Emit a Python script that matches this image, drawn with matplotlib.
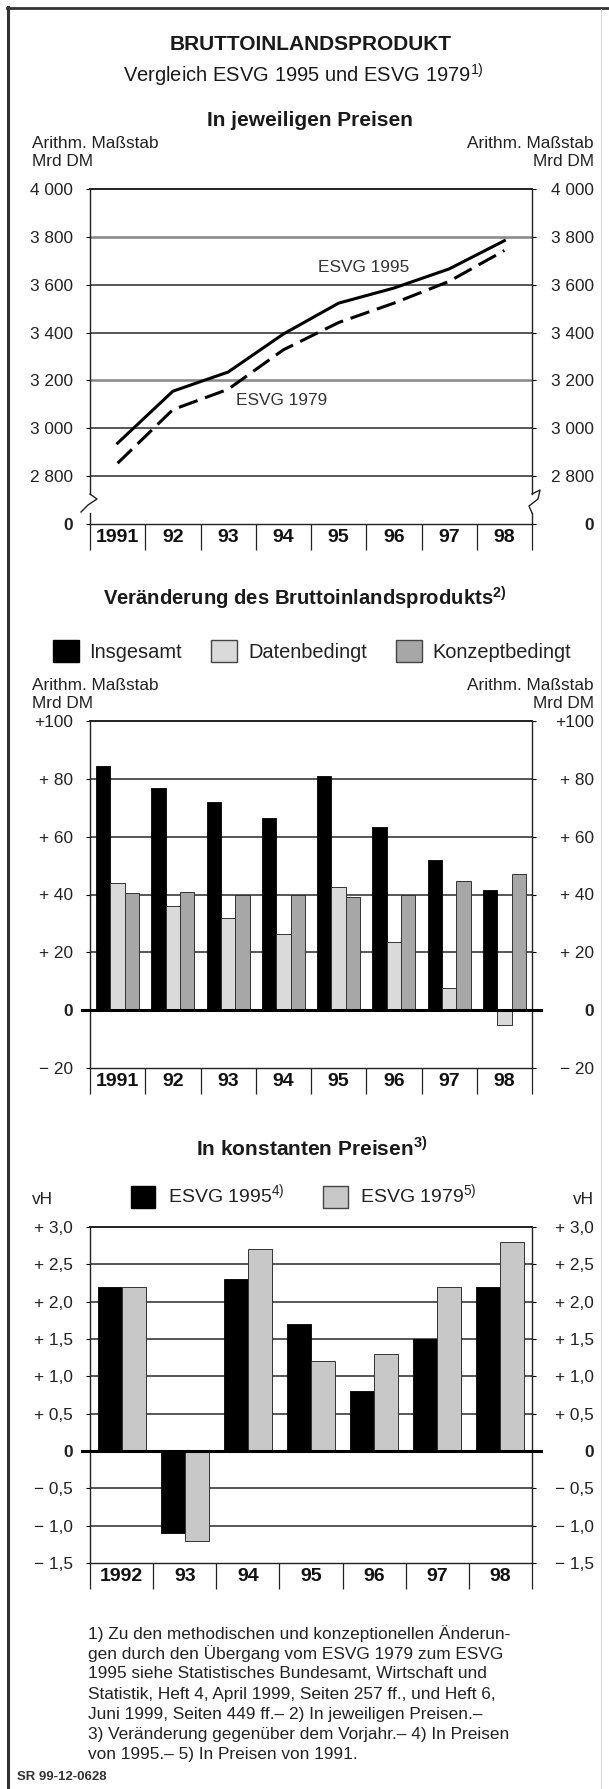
import numpy as np
import matplotlib.pyplot as plt
from matplotlib.lines import Line2D
from matplotlib.patches import Patch

plt.rcParams['font.family'] = ['Liberation Sans', 'DejaVu Sans']
plt.rcParams['text.color'] = '#1a1a1a'

# --- data ---
years_a = ['1991', '92', '93', '94', '95', '96', '97', '98']
bip_esvg95 = [2938, 3155, 3235, 3394, 3523, 3586, 3666, 3784]
bip_esvg79 = [2854, 3078, 3163, 3328, 3442, 3523, 3614, 3743]

chg_total = [84.5, 77, 72, 66.5, 81, 63.5, 52, 41.5]
chg_data = [44, 36, 32, 26.5, 42.5, 23.5, 7.5, -5]
chg_concept = [40.5, 41, 40, 40, 39, 40, 44.5, 47]

years_c = ['1992', '93', '94', '95', '96', '97', '98']
real_esvg95 = [2.2, -1.1, 2.3, 1.7, 0.8, 1.5, 2.2]
real_esvg79 = [2.2, -1.2, 2.7, 1.2, 1.3, 2.2, 2.8]

footnote = [
    "1) Zu den methodischen und konzeptionellen Änderun-",
    "gen durch den Übergang vom ESVG 1979 zum ESVG",
    "1995 siehe Statistisches Bundesamt, Wirtschaft und",
    "Statistik, Heft 4, April 1999, Seiten 257 ff., und Heft 6,",
    "Juni 1999, Seiten 449 ff.– 2) In jeweiligen Preisen.–",
    "3) Veränderung gegenüber dem Vorjahr.– 4) In Preisen",
    "von 1995.– 5) In Preisen von 1991.",
]

W, H = 609, 1789
fig = plt.figure(figsize=(W / 100, H / 100), dpi=100)
fig.patch.set_facecolor('white')

def rect(l, t, r, b):
    return [l / W, 1 - b / H, (r - l) / W, (b - t) / H]

def fx(x): return x / W
def fy(y): return 1 - y / H

LIGHT = '#dadada'
GRAY = '#a7a7a7'
GRID = '#3a3a3a'
TICK_FS = 12.4
CAT_FS = 14
SEC_FS = 15

def fmt_thousand(v):
    return f"{v:,}".replace(",", " ")

def fmt_plus_int(v):
    if v == 0:
        return "0"
    if v < 0:
        return f"\u2212 {abs(v)}"
    return "+100" if v >= 100 else f"+ {v}"

def fmt_plus_dec(v):
    if v == 0:
        return "0"
    s = f"{abs(v):.1f}".replace(".", ",")
    return ("+ " if v > 0 else "\u2212 ") + s

def setup(ax, cats, ylim, ticks, labels, grid, light_grid=()):
    n = len(cats)
    ax.set_xlim(-0.5, n - 0.5)
    ax.set_ylim(*ylim)
    for g in grid:
        if g in light_grid:
            ax.axhline(g, color='#8c8c8c', lw=1.9, zorder=0.5)
        else:
            ax.axhline(g, color=GRID, lw=1.2, zorder=0.5)
    ax.set_yticks(ticks, labels)
    ax.tick_params(axis='y', length=3, width=0.8, pad=9.4, labelsize=TICK_FS,
                   labelcolor='#222')
    sec = ax.secondary_yaxis('right')
    sec.set_yticks(ticks, labels, ha='right')
    sec.tick_params(axis='y', length=3, width=0.8, pad=41.6, labelsize=TICK_FS,
                    labelcolor='#222')
    sec.spines['right'].set_visible(False)
    for a in (ax, sec):
        for lab in a.get_yticklabels():
            if lab.get_text() == "0":
                lab.set_fontweight('bold')
    ax.set_xticks(range(n), cats, fontweight='bold', fontsize=CAT_FS)
    ax.set_xticks(np.arange(-0.5, n), minor=True)
    ax.tick_params(axis='x', which='major', length=0, pad=3.5, colors='#111')
    ax.tick_params(axis='x', which='minor', length=19, width=0.9, color='#222')
    for s in ax.spines.values():
        s.set_color('#222')
        s.set_linewidth(1.0)
    ax.spines['top'].set_linewidth(1.4)
    return sec

def unit_labels(rows):
    for y, t in rows:
        fig.text(fx(32), fy(y), t, ha='left', va='center', fontsize=12.4, color='#222')
        fig.text(fx(594), fy(y), t, ha='right', va='center', fontsize=12.4, color='#222')

# --- frame ---
fig.add_artist(Line2D([fx(8), fx(8)], [fy(7), fy(1789)], color='#333', lw=2.2))
fig.add_artist(Line2D([fx(7), fx(609)], [fy(8), fy(8)], color='#333', lw=2.0))
fig.add_artist(Line2D([fx(601), fx(601)], [fy(9), fy(1789)], color='#d8d8d8', lw=0.8))

# --- header ---
fig.text(fx(311), fy(44), "BRUTTOINLANDSPRODUKT", ha='center', va='center',
         fontsize=15, fontweight='bold')
fig.text(fx(303), fy(75), r"Vergleich ESVG 1995 und ESVG 1979$^{\mathregular{1)}}$",
         ha='center', va='center', fontsize=14.5)

# --- chart 1: in jeweiligen Preisen ---
fig.text(fx(310), fy(121), "In jeweiligen Preisen", ha='center', va='center',
         fontsize=SEC_FS, fontweight='bold')
unit_labels(((143, "Arithm. Maßstab"), (162, "Mrd DM")))

ax1 = fig.add_axes(rect(90, 189, 532, 524))
t1 = [2600] + list(range(2800, 4001, 200))
l1 = ["0"] + [fmt_thousand(v) for v in range(2800, 4001, 200)]
setup(ax1, years_a, (2600, 4000), t1, l1, range(2800, 3801, 200), (3200, 3800))
x1 = np.arange(len(years_a))
ax1.plot(x1, bip_esvg95, color='black', lw=2.2, zorder=3)
ax1.plot(x1, bip_esvg79, color='black', lw=2.2, dashes=(6.5, 2.6), zorder=3)
ax1.text(4.46, 3672, "ESVG 1995", ha='center', va='center', fontsize=12.4, color='#333')
ax1.text(2.97, 3115, "ESVG 1979", ha='center', va='center', fontsize=12.4, color='#333')

# axis break on both sides
ax1.spines['left'].set_visible(False)
ax1.spines['right'].set_visible(False)
def ax1_pts(pts):
    xs = [(p[0] - 90) / 442 for p in pts]
    ys = [1 - (p[1] - 189) / 335 for p in pts]
    return xs, ys
for pts in ([(90, 189), (90, 494)], [(90, 513), (90, 524)],
            [(90, 494), (97, 499), (88, 505), (81, 512)],
            [(532, 189), (532, 494)], [(532, 513), (532, 524)],
            [(532, 494), (540, 490), (538, 499), (529, 506), (532, 513)]):
    xs, ys = ax1_pts(pts)
    ax1.add_artist(Line2D(xs, ys, transform=ax1.transAxes, color='#222', lw=1.0,
                          clip_on=False))

# --- chart 2: Veraenderung ---
fig.text(fx(305), fy(598), r"Veränderung des Bruttoinlandsprodukts$^{\mathregular{2)}}$",
         ha='center', va='center', fontsize=14.6, fontweight='bold')
fig.legend(handles=[Patch(facecolor='black', edgecolor='black'),
                    Patch(facecolor=LIGHT, edgecolor='#444'),
                    Patch(facecolor=GRAY, edgecolor='#444')],
           labels=["Insgesamt", "Datenbedingt", "Konzeptbedingt"],
           loc='center', bbox_to_anchor=(fx(312), fy(651)), ncol=3, frameon=False,
           fontsize=14.4, handlelength=1.3, handleheight=1.3, handletextpad=0.55,
           columnspacing=1.45, borderpad=0, labelcolor='#222')
unit_labels(((686, "Arithm. Maßstab"), (704, "Mrd DM")))

ax2 = fig.add_axes(rect(90, 721, 532, 1068))
t2 = list(range(-20, 101, 20))
setup(ax2, years_a, (-20, 100), t2, [fmt_plus_int(v) for v in t2], [20, 40, 60, 80])
x2 = np.arange(len(years_a))
bw = 0.26
ax2.bar(x2 - bw, chg_total, bw, color='black', edgecolor='black', lw=0.6, zorder=2)
ax2.bar(x2, chg_data, bw, color=LIGHT, edgecolor='#333', lw=0.7, zorder=2)
ax2.bar(x2 + bw, chg_concept, bw, color=GRAY, edgecolor='#333', lw=0.7, zorder=2)
ax2.axhline(0, xmin=-8 / 442, xmax=1 + 9 / 442, color='black', lw=2.2, zorder=4,
            clip_on=False)

# --- chart 3: in konstanten Preisen ---
fig.text(fx(312), fy(1148), r"In konstanten Preisen$^{\mathregular{3)}}$",
         ha='center', va='center', fontsize=SEC_FS, fontweight='bold')
fig.legend(handles=[Patch(facecolor='black', edgecolor='black'),
                    Patch(facecolor='#c8c8c8', edgecolor='#444')],
           labels=[r"ESVG 1995$^{\mathregular{4)}}$", r"ESVG 1979$^{\mathregular{5)}}$"],
           loc='center', bbox_to_anchor=(fx(304), fy(1195)), ncol=2, frameon=False,
           fontsize=14, handlelength=1.25, handleheight=1.35, handletextpad=0.65,
           columnspacing=2.0, borderpad=0, labelcolor='#222')
unit_labels(((1199, "vH"),))

ax3 = fig.add_axes(rect(90, 1227, 532, 1563))
t3 = [v / 2 for v in range(-3, 7)]
setup(ax3, years_c, (-1.5, 3.0), t3, [fmt_plus_dec(v) for v in t3],
      [-1.0, -0.5, 0.5, 1.0, 1.5, 2.0, 2.5])
x3 = np.arange(len(years_c))
bw3 = 0.38
ax3.bar(x3 - bw3 / 2, real_esvg95, bw3, color='black', edgecolor='black', lw=0.6, zorder=2)
ax3.bar(x3 + bw3 / 2, real_esvg79, bw3, color='#c8c8c8', edgecolor='#333', lw=0.7, zorder=2)
ax3.axhline(0, xmin=-8 / 442, xmax=1 + 9 / 442, color='black', lw=2.2, zorder=4,
            clip_on=False)

# --- footnotes ---
for i, line in enumerate(footnote):
    fig.text(fx(88), fy(1634 + i * 20), line, ha='left', va='center', fontsize=12.4,
             color='#222')
fig.text(fx(17), fy(1777), "SR 99-12-0628", ha='left', va='center', fontsize=9.5,
         fontweight='bold', color='#333')

fig.savefig('out.png', dpi=100)
